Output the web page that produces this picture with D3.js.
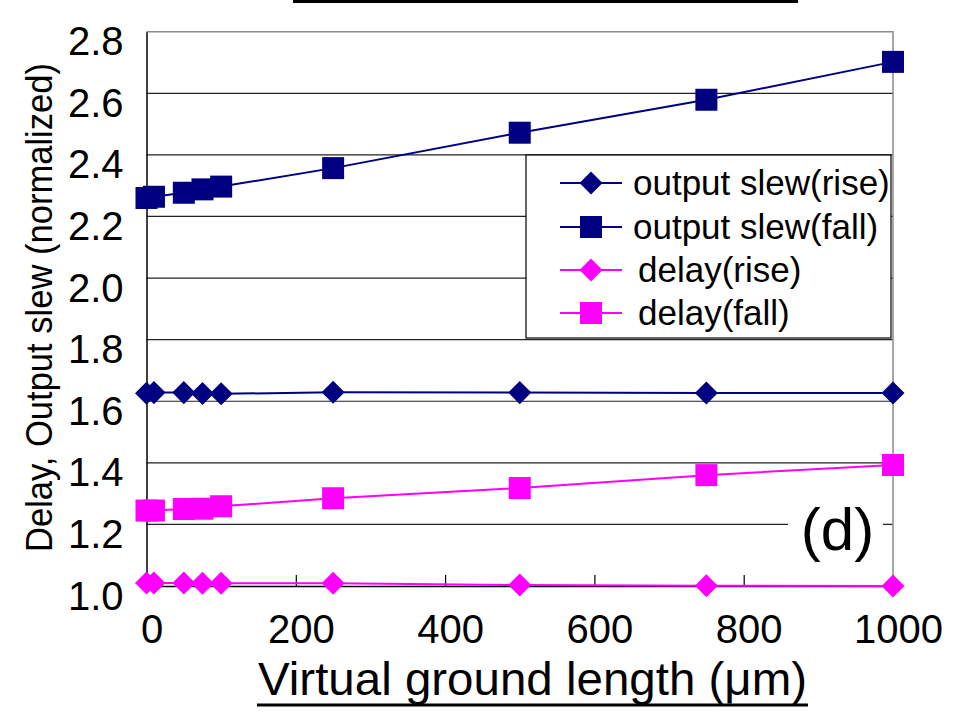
<!DOCTYPE html>
<html>
<head>
<meta charset="utf-8">
<script src="https://cdn.jsdelivr.net/npm/d3@7"></script>
<style>
  body { margin: 0; background: #fff; }
  svg { display: block; font-family: "Liberation Sans", Arial, sans-serif; }
</style>
</head>
<body>
<div id="chart"></div>
<script>
// 1: DATA
const lengths = [0, 10, 50, 75, 100, 250, 500, 750, 1000];
const slewRise = [1.626, 1.628, 1.628, 1.625, 1.624, 1.629, 1.628, 1.627, 1.627];
const slewFall = [2.260, 2.264, 2.277, 2.288, 2.297, 2.357, 2.472, 2.579, 2.702];
const delayRise = [1.010, 1.010, 1.010, 1.009, 1.009, 1.009, 1.003, 1.001, 1.000];
const delayFall = [1.245, 1.245, 1.250, 1.251, 1.259, 1.285, 1.318, 1.360, 1.393];

const xTicks = [0, 200, 400, 600, 800, 1000];
const yTicks = [1.0, 1.2, 1.4, 1.6, 1.8, 2.0, 2.2, 2.4, 2.6, 2.8];

const seriesNames = ["output slew(rise)", "output slew(fall)", "delay(rise)", "delay(fall)"];
const seriesValues = [slewRise, slewFall, delayRise, delayFall];
const seriesColors = ["#000080", "#000080", "#ff00ff", "#ff00ff"];
const seriesShapes = ["diamond", "square", "diamond", "square"];

const series = seriesNames.map((name, i) => ({
	name,
	color: seriesColors[i],
	shape: seriesShapes[i],
	values: lengths.map((x, j) => ({ x, y: seriesValues[i][j] }))
}));

// 2: SIZES
const W = 954, H = 716;
const margin = { top: 31.7, left: 146.5 };
const width = 893 - margin.left;
const height = 586 - margin.top;

const svg = d3.select("#chart").append("svg")
	.attr("width", W)
	.attr("height", H);

const g = svg.append("g")
	.attr("transform", `translate(${margin.left},${margin.top})`);

// 3: SCALES
const xScale = d3.scaleLinear().domain([0, 1000]).range([0, width]);
const yScale = d3.scaleLinear().domain([1.0, 2.8]).range([height, 0]);

// 4: GRID AND FRAME
g.selectAll(".grid")
	.data(yTicks.filter(t => t > 1.0 && t < 2.8))
	.enter()
	.append("line")
		.attr("class", "grid")
		.attr("x1", 0)
		.attr("x2", width)
		.attr("y1", d => yScale(d))
		.attr("y2", d => yScale(d))
		.attr("stroke", "#222")
		.attr("stroke-width", 1.2);

// top and right border (grey)
g.append("path")
	.attr("d", `M0,${yScale(2.8)}H${xScale(1000)}V${yScale(1.0)}`)
	.attr("fill", "none")
	.attr("stroke", "#8a8a8a")
	.attr("stroke-width", 1.5);

// 5: AXES
const yAxis = g.append("g")
	.call(d3.axisLeft(yScale).tickValues(yTicks).tickSize(0).tickFormat(d3.format(".1f")));
yAxis.select(".domain").attr("stroke", "#000").attr("stroke-width", 1.5);
yAxis.selectAll("text")
	.attr("x", -23)
	.attr("dy", null)
	.attr("y", 23)
	.style("font-size", "40px")
	.style("font-family", "'Liberation Sans', Arial, sans-serif")
	.attr("fill", "#000");

const xAxis = g.append("g")
	.attr("transform", `translate(0,${height})`)
	.call(d3.axisBottom(xScale).tickValues(xTicks).tickSizeInner(-11).tickSizeOuter(0).tickFormat(d3.format("d")));
xAxis.select(".domain").attr("stroke", "#000").attr("stroke-width", 1.5);
xAxis.selectAll("line").attr("stroke", "#000").attr("stroke-width", 1.2);
xAxis.selectAll("text")
	.attr("x", 5)
	.attr("dy", null)
	.attr("y", 57)
	.style("font-size", "40px")
	.style("font-family", "'Liberation Sans', Arial, sans-serif")
	.attr("fill", "#000");

// 6: LABELS
svg.append("text")
	.attr("x", 532.5)
	.attr("y", 695)
	.attr("text-anchor", "middle")
	.attr("textLength", 549)
	.attr("lengthAdjust", "spacingAndGlyphs")
	.style("font-size", "47px")
	.attr("fill", "#000")
	.text("Virtual ground length (\u03bcm)");
svg.append("line")
	.attr("x1", 257)
	.attr("x2", 808)
	.attr("y1", 705)
	.attr("y2", 705)
	.attr("stroke", "#000")
	.attr("stroke-width", 3);

svg.append("text")
	.attr("transform", "translate(52,307.5) rotate(-90)")
	.attr("text-anchor", "middle")
	.attr("textLength", 489)
	.attr("lengthAdjust", "spacingAndGlyphs")
	.style("font-size", "36px")
	.attr("fill", "#000")
	.text("Delay, Output slew (normalized)");

// underline of the title that is cut off above the picture
svg.append("line")
	.attr("x1", 293)
	.attr("x2", 798)
	.attr("y1", 1.5)
	.attr("y2", 1.5)
	.attr("stroke", "#000")
	.attr("stroke-width", 3);

// (d) label over a white box
svg.append("rect")
	.attr("x", 788)
	.attr("y", 495)
	.attr("width", 95)
	.attr("height", 75)
	.attr("fill", "#fff");
svg.append("text")
	.attr("x", 837.5)
	.attr("y", 550)
	.attr("text-anchor", "middle")
	.style("font-size", "60px")
	.attr("fill", "#000")
	.text("(d)");

// 7: DATA LINES AND MARKERS
const line = d3.line()
	.x(d => xScale(d.x))
	.y(d => yScale(d.y));

const squareSym = d3.symbol().type(d3.symbolSquare).size(22 * 22);
const diamondSym = d3.symbol().type(d3.symbolSquare).size(16.3 * 16.3);

function drawMarker(sel, shape) {
	if (shape === "square") {
		sel.attr("d", squareSym);
	} else {
		sel.attr("d", diamondSym);
	}
}

series.forEach(s => {
	g.append("path")
		.datum(s.values)
		.attr("d", line)
		.attr("fill", "none")
		.attr("stroke", s.color)
		.attr("stroke-width", 2);

	g.selectAll(null)
		.data(s.values)
		.enter()
		.append("path")
			.call(drawMarker, s.shape)
			.attr("transform", d => `translate(${xScale(d.x)},${yScale(d.y)})` + (s.shape === "diamond" ? " rotate(45)" : ""))
			.attr("fill", s.color);
});

// 8: LEGEND
const legend = svg.append("g");
legend.append("rect")
	.attr("x", 526)
	.attr("y", 155)
	.attr("width", 365)
	.attr("height", 183)
	.attr("fill", "#fff")
	.attr("stroke", "#000")
	.attr("stroke-width", 1.2);

const rowY = [183, 227, 270, 313];
const textX = [633, 633, 638, 638];

series.forEach((s, i) => {
	const row = legend.append("g").attr("transform", `translate(0,${rowY[i]})`);
	row.append("line")
		.attr("x1", 560)
		.attr("x2", 622)
		.attr("stroke", s.color)
		.attr("stroke-width", 2);
	row.append("path")
		.call(drawMarker, s.shape)
		.attr("transform", `translate(591,0)` + (s.shape === "diamond" ? " rotate(45)" : ""))
		.attr("fill", s.color);
	row.append("text")
		.attr("x", textX[i])
		.attr("y", 12)
		.style("font-size", "35px")
		.attr("fill", "#000")
		.text(s.name);
});
</script>
</body>
</html>
